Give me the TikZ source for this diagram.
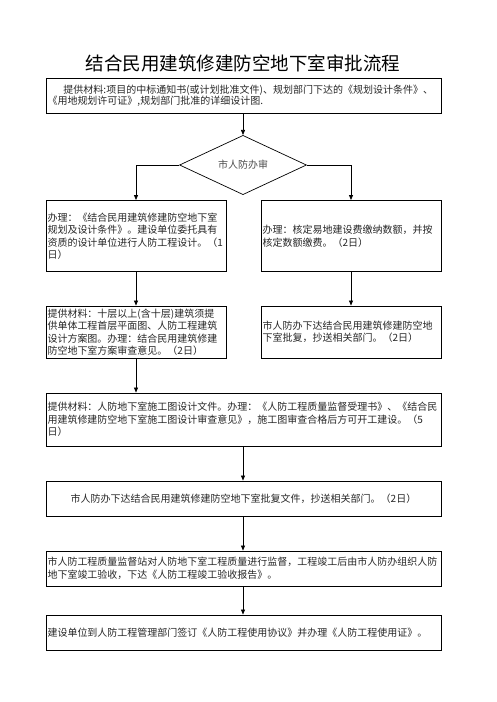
\documentclass[tikz,border=0pt]{standalone}
\usepackage{fontspec}
\usetikzlibrary{shapes.geometric,arrows.meta}
\newfontfamily\song{Noto Sans CJK SC}
\newfontfamily\hei{Noto Sans CJK SC}

\begin{document}
\begin{tikzpicture}[x=1pt, y=-1pt, thin,
  every node/.style={font=\song\fontsize{10pt}{12.5pt}\selectfont, text=black!85},
  box/.style={draw, line width=0.9pt, inner xsep=1.5pt, inner ysep=0pt, align=left},
  wide/.style={box, minimum width=395pt, text width=392pt},
  narrow/.style={box, minimum width=180pt, text width=177pt},
  arr/.style={-{Triangle[length=5pt,width=4pt]}, line width=0.7pt}]
  \useasboundingbox (0,0) rectangle (496,702);
  \def\midx{243.5}
  \node[font=\hei\fontsize{18.5pt}{20pt}\selectfont, text=black] (title) at (243,63) {结合民用建筑修建防空地下室审批流程};
  \node[wide, minimum height=35pt, font=\song\fontsize{10pt}{11pt}\selectfont] (cailiao) at (\midx,95.5)
    {\hspace*{16pt}提供材料:项目的中标通知书(或计划批准文件)、规划部门下达的《规划设计条件》、\\《用地规划许可证》,规划部门批准的详细设计图.};
  \node[diamond, draw, line width=0.7pt, inner sep=0pt, minimum width=127pt, minimum height=54pt,
    font=\hei\fontsize{10pt}{12pt}\selectfont, text=black!70] (shen) at (243,165) {市人防办审};
  \node[narrow, minimum height=71pt] (banli) at (136,236)
    {办理：《结合民用建筑修建防空地下室\\规划及设计条件》。建设单位委托具有\\资质的设计单位进行人防工程设计。（1\\日）};
  \node[narrow, minimum height=71pt] (jiaofei) at (351,236)
    {办理：核定易地建设费缴纳数额，并按\\核定数额缴费。（2日）};
  \node[narrow, minimum height=52pt] (fangan) at (136,332)
    {提供材料：十层以上(含十层)建筑须提\\供单体工程首层平面图、人防工程建筑\\设计方案图。办理：结合民用建筑修建\\防空地下室方案审查意见。（2日）};
  \node[narrow, minimum height=52pt] (pifu) at (351,332)
    {市人防办下达结合民用建筑修建防空地\\下室批复，抄送相关部门。（2日）};
  \node[wide, minimum height=53pt] (shigong) at (\midx,419.5)
    {提供材料：人防地下室施工图设计文件。办理：《人防工程质量监督受理书》、《结合民\\用建筑修建防空地下室施工图设计审查意见》，施工图审查合格后方可开工建设。（5\\日）};
  \node[wide, minimum height=35pt, align=center] (wenjian) at (\midx,498.5)
    {市人防办下达结合民用建筑修建防空地下室批复文件，抄送相关部门。（2日）};
  \node[wide, minimum height=35pt] (jiandu) at (\midx,568.5)
    {市人防工程质量监督站对人防地下室工程质量进行监督，工程竣工后由市人防办组织人防\\地下室竣工验收，下达《人防工程竣工验收报告》。};
  \node[wide, minimum height=35pt] (shiyong) at (\midx,632.5)
    {建设单位到人防工程管理部门签订《人防工程使用协议》并办理《人防工程使用证》。};
  \draw[arr] (cailiao.south -| shen.north) -- (shen.north);
  \draw[arr] (shen.west) -| (banli.north);
  \draw[arr] (shen.east) -| (jiaofei.north);
  \draw[arr] (banli) -- (fangan);
  \draw[arr] (jiaofei) -- (pifu);
  \draw[arr] (fangan.south) -- (fangan.south |- shigong.north);
  \draw[arr] (shigong.south -| shen.south) -- (wenjian.north -| shen.south);
  \draw[arr] (wenjian.south -| shen.south) -- (jiandu.north -| shen.south);
  \draw[arr] (jiandu.south -| shen.south) -- (shiyong.north -| shen.south);
\end{tikzpicture}
\end{document}
